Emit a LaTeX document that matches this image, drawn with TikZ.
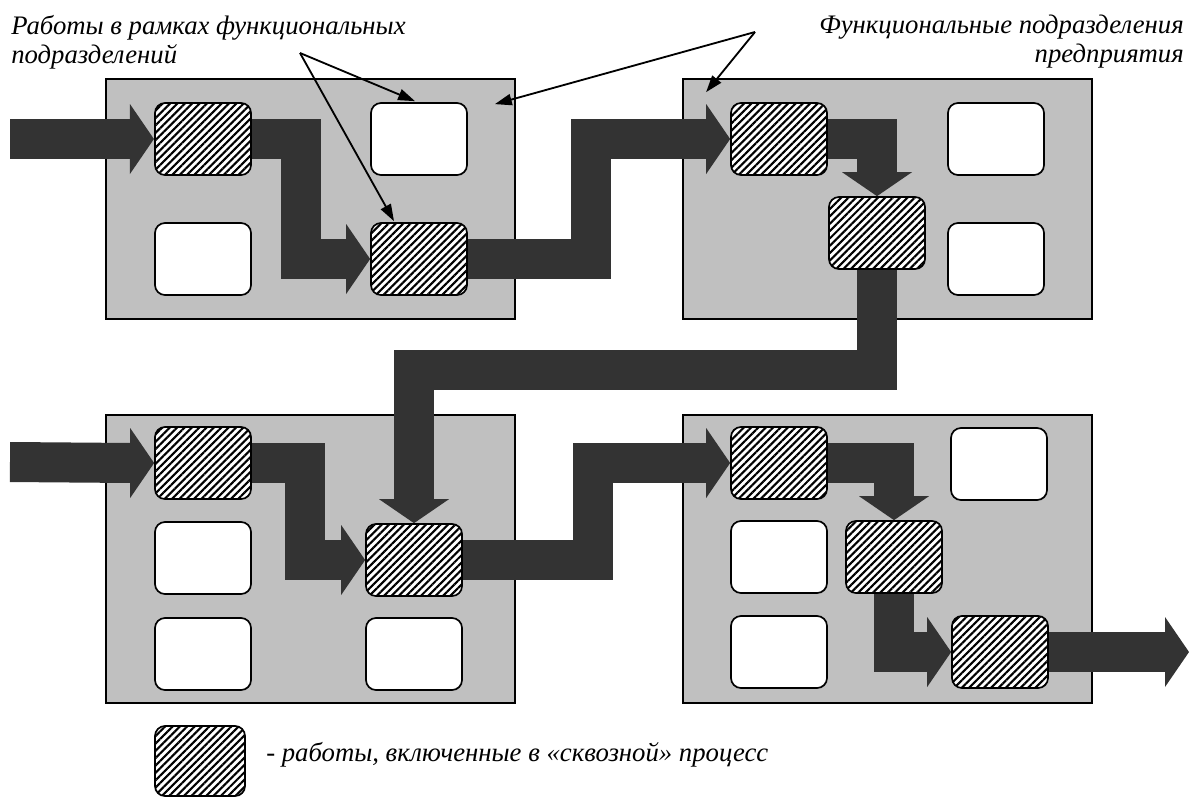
\documentclass[tikz,border=0pt]{standalone}
\usepackage{fontspec}
\setmainfont{Liberation Serif}
\usetikzlibrary{calc,patterns.meta,arrows.meta,backgrounds}
\definecolor{panelgray}{HTML}{C0C0C0}
\definecolor{flowc}{HTML}{333333}
\newcommand{\headE}[1]{\fill[flowc] ($(#1)+(-24,-35)$) -- (#1) -- ($(#1)+(-24,35)$) -- cycle;}
\newcommand{\headS}[1]{\fill[flowc] ($(#1)+(-35,-24)$) -- (#1) -- ($(#1)+(35,-24)$) -- cycle;}
\tikzset{
  panel/.style={draw, line width=1.2pt, fill=panelgray, minimum width=10.225cm, inner sep=0pt},
  job/.style={draw, line width=1.2pt, fill=white, rounded corners=0.25cm,
    minimum width=2.4cm, minimum height=1.8cm, inner sep=0pt},
  work/.style={draw, line width=1.2pt, rounded corners=0.25cm,
    minimum width=2.4cm, minimum height=1.8cm, inner sep=0pt,
    preaction={fill=white}, pattern={Lines[angle=45,distance=3.7pt,line width=1.5pt]}},
  flow/.style={draw=flowc, line width=1cm},
  pointer/.style={line width=1.3pt, -{Triangle[length=12pt,width=8pt]}},
  caption/.style={font=\itshape\fontsize{19}{20.5}\selectfont, inner sep=0pt}
}

\begin{document}
\begin{tikzpicture}[x=0.025cm, y=-0.025cm]
\useasboundingbox (0,0) rectangle (1189,796);

% upper left unit
\node[work] (a1) at (203,139) {};
\node[job]  (w11) at (419,139) {};
\node[job]  (w12) at (203,259) {};
\node[work] (b1) at (419,259) {};

% upper right unit
\node[work] (a2) at (779,139) {};
\node[job]  (w21) at (996,139) {};
\node[work] (b2) at (877,233) {};
\node[job]  (w22) at (996,259) {};

% lower left unit
\node[work] (a3) at (203,463) {};
\node[job]  (w31) at (203,558) {};
\node[job]  (w32) at (203,654) {};
\node[work] (b3) at (414,560) {};
\node[job]  (w33) at (414,654) {};

% lower right unit
\node[work] (a4) at (779,463) {};
\node[job]  (w41) at (999,464) {};
\node[job]  (w42) at (779,557) {};
\node[work] (b4) at (894,557) {};
\node[job]  (w43) at (779,652) {};
\node[work] (c4) at (1000,652) {};

\coordinate (in1) at (10,139);
\coordinate (in3) at (10,462);
\coordinate (out) at (1189,652);

\begin{pgfonlayer}{background}
\node[panel, minimum height=6cm] (p1) at (310.5,199) {};
\node[panel, minimum height=6cm] (p2) at (887.5,199) {};
\node[panel, minimum height=7.2cm] (p3) at (310.5,559) {};
\node[panel, minimum height=7.2cm] (p4) at (887.5,559) {};

% the through process
\draw[flow] (in1) -- ($(a1.west)+(-22,0)$); \headE{a1.west}
\draw[flow] (a1.east) -| ($(b1.west)+(-69,0)$) -- ($(b1.west)+(-22,0)$); \headE{b1.west}
\draw[flow] (b1.east) -| ($(a2.west)+(-139,0)$) -- ($(a2.west)+(-22,0)$); \headE{a2.west}
\draw[flow] (a2.east) -| ($(b2.north)+(0,-22)$); \headS{b2.north}
\draw[flow] (b2.south) |- ($(b3.north)+(0,-153)$) -- ($(b3.north)+(0,-22)$); \headS{b3.north}
\draw[flow] (in3) -- ($(a3.west)+(-22,0)$); \headE{a3.west}
\draw[flow] (a3.east) -| ($(b3.west)+(-60,0)$) -- ($(b3.west)+(-22,0)$); \headE{b3.west}
\draw[flow] (b3.east) -| ($(a4.west)+(-137,0)$) -- ($(a4.west)+(-22,0)$); \headE{a4.west}
\draw[flow] (a4.east) -| ($(b4.north)+(0,-22)$); \headS{b4.north}
\draw[flow] (b4.south) |- ($(c4.west)+(-22,0)$); \headE{c4.west}
\draw[flow] (c4.east) -- ($(out)+(-22,0)$); \headE{out}
\end{pgfonlayer}

% callouts
\coordinate (tagL) at (300,53);
\coordinate (tagR) at (755,32);
\draw[pointer] (tagL) -- ($(w11.north)+(-4,-1)$);
\draw[pointer] (tagL) -- ($(b1.north)+(-25,-1)$);
\draw[pointer] (tagR) -- ($(p1.north east)+(-21,26)$);
\draw[pointer] (tagR) -- ($(p2.north west)+(24,14)$);

\node[caption, anchor=north west, align=left] (t1) at (11,15)
  {Работы в рамках функциональных\\подразделений};
\node[caption, anchor=north east, align=right] (t2) at (1184,15)
  {Функциональные подразделения\\предприятия};

% legend
\node[work, minimum width=2.25cm, minimum height=1.75cm] (key) at (200,761) {};
\node[caption, anchor=base west] (keytext) at (266,761)
  {- работы, включенные в «сквозной» процесс};
\end{tikzpicture}
\end{document}
